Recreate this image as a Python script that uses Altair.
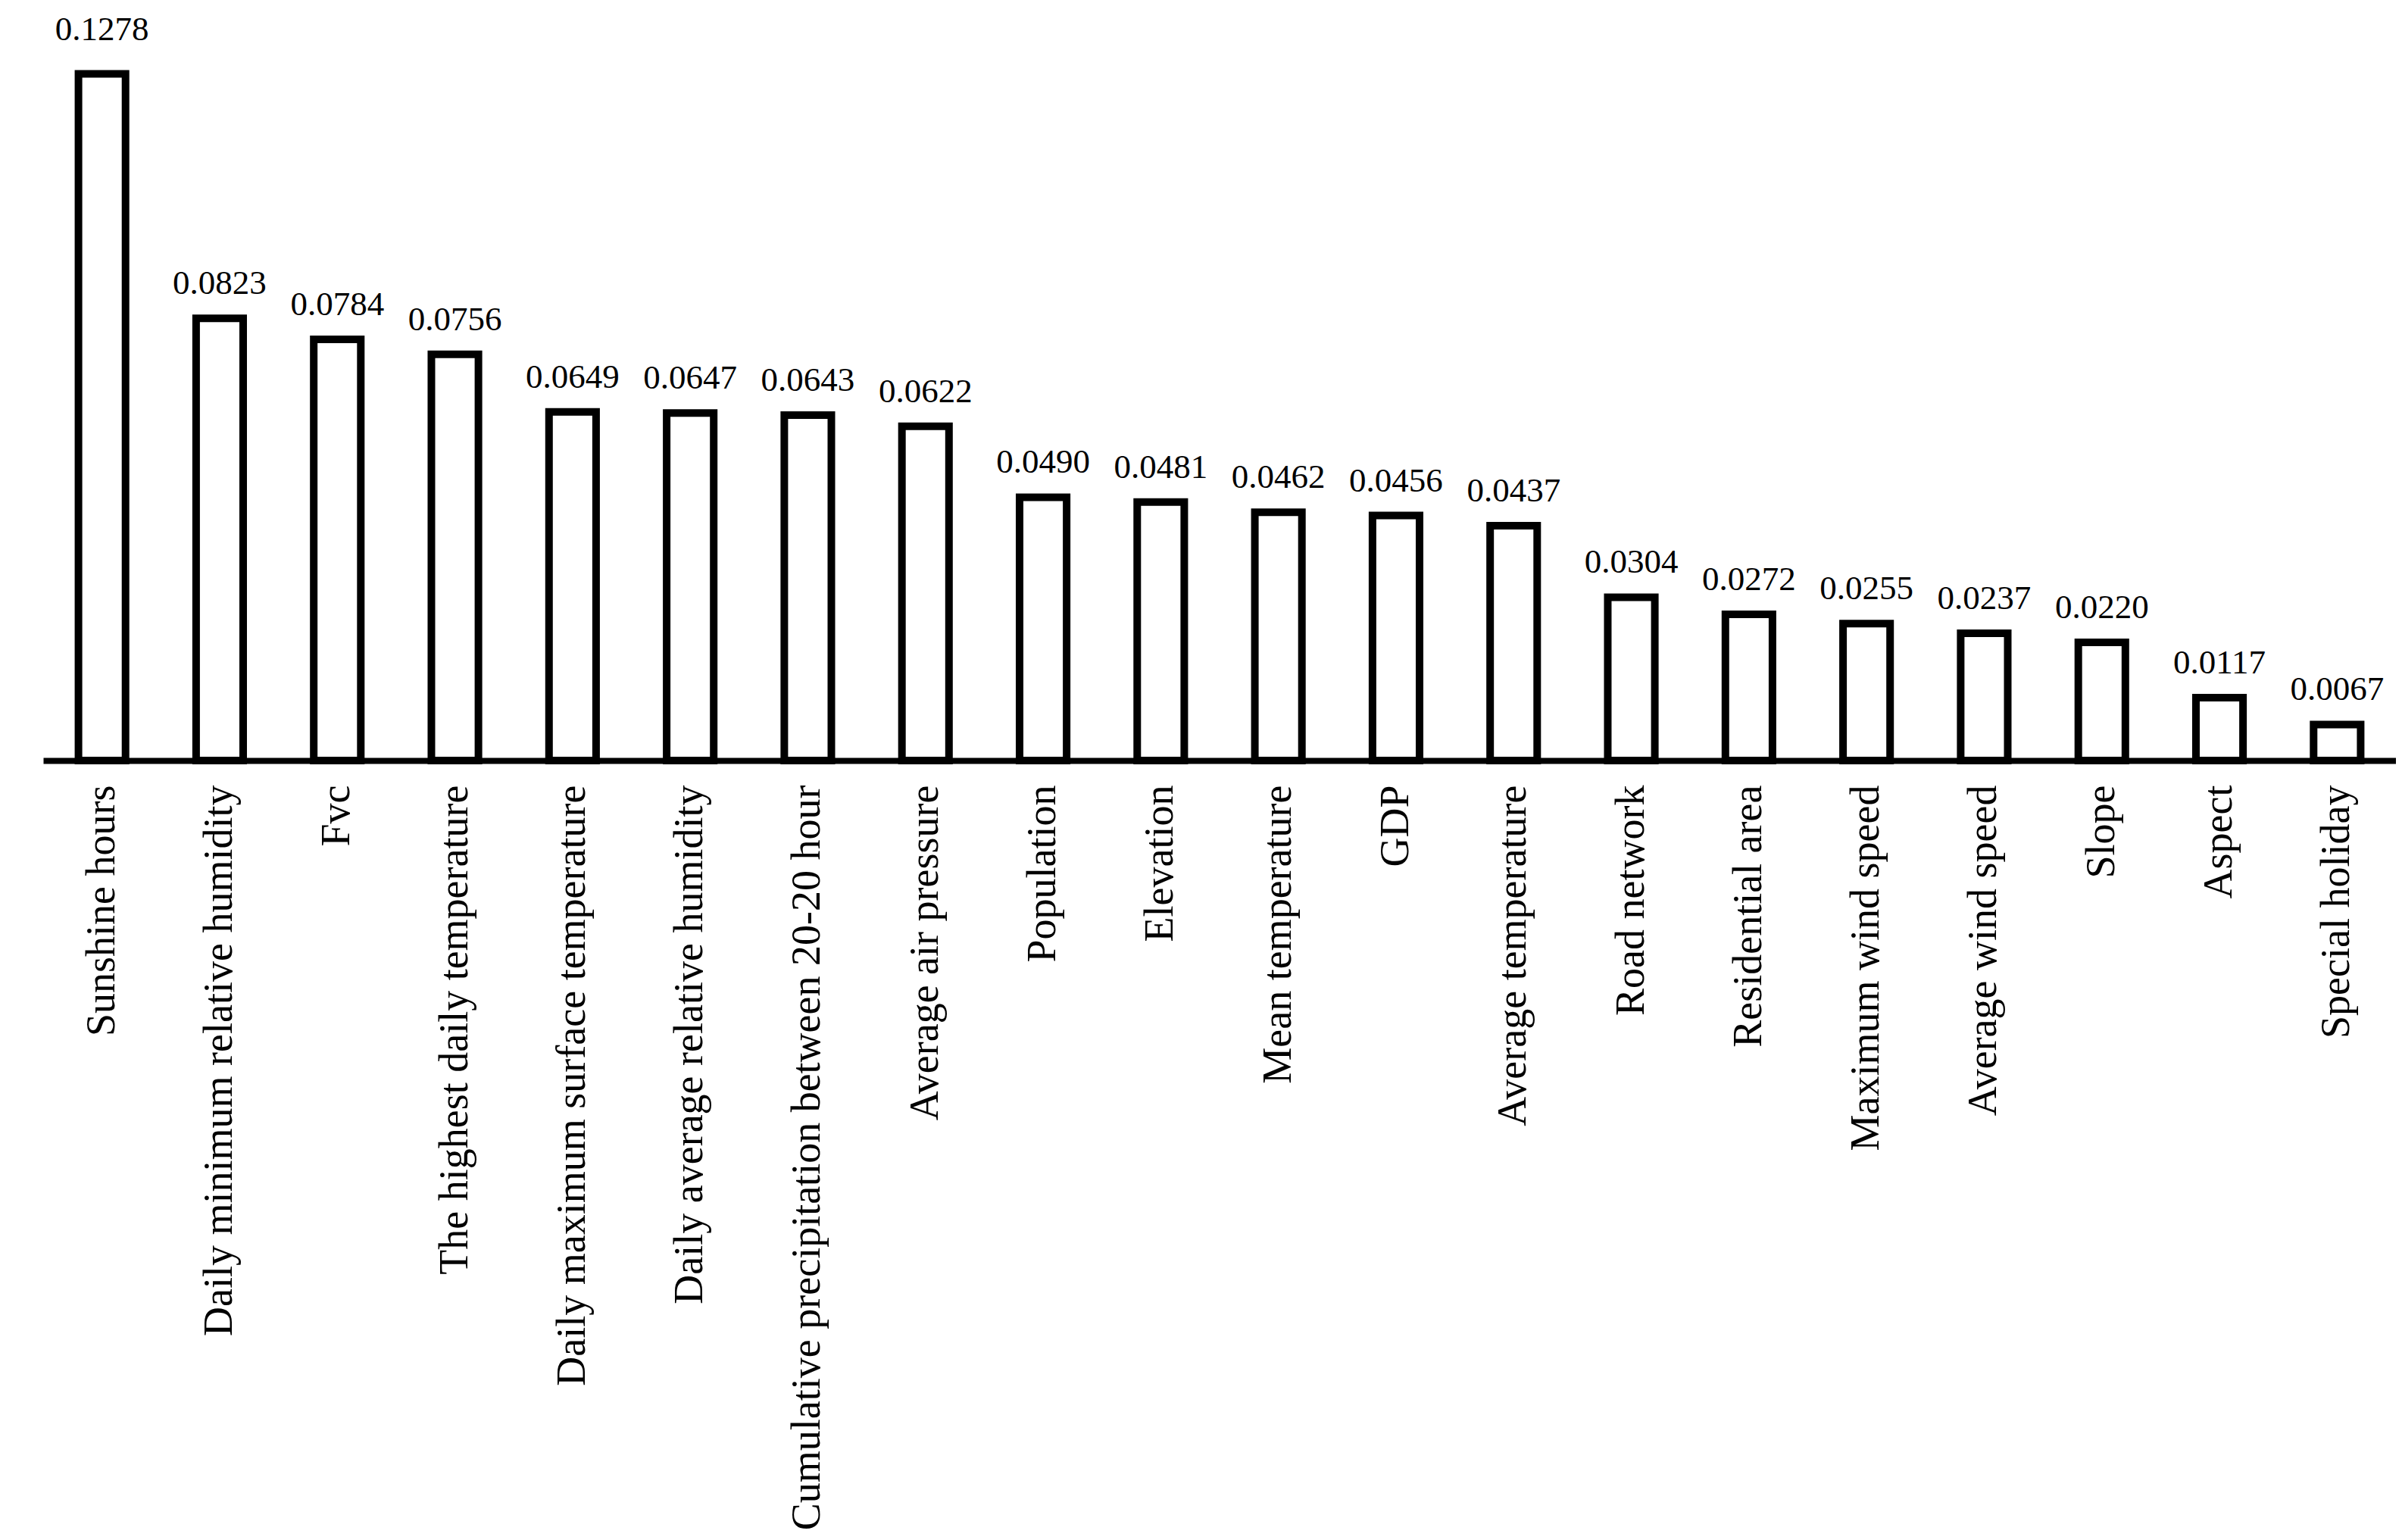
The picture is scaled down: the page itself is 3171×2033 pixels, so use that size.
import altair as alt
import pandas as pd

factors = [
    "Sunshine hours",
    "Daily minimum relative humidity",
    "Fvc",
    "The highest daily temperature",
    "Daily maximum surface temperature",
    "Daily average relative humidity",
    "Cumulative precipitation between 20-20 hour",
    "Average air pressure",
    "Population",
    "Elevation",
    "Mean temperature",
    "GDP",
    "Average temperature",
    "Road network",
    "Residential area",
    "Maximum wind speed",
    "Average wind speed",
    "Slope",
    "Aspect",
    "Special holiday",
]
importance = [
    0.1278, 0.0823, 0.0784, 0.0756, 0.0649, 0.0647, 0.0643, 0.0622,
    0.0490, 0.0481, 0.0462, 0.0456, 0.0437, 0.0304, 0.0272, 0.0255,
    0.0237, 0.0220, 0.0117, 0.0067,
]
labels = [f"{v:.4f}" for v in importance]

df = pd.DataFrame({"factor": factors, "value": importance, "label": labels})

FONT = "Liberation Serif"

x = alt.X(
    "factor:N",
    sort=factors,
    scale=alt.Scale(paddingInner=0.6, paddingOuter=0.3),
    axis=alt.Axis(
        title=None,
        labelAngle=270,
        labelAlign="right",
        labelBaseline="middle",
        labelFont=FONT,
        labelFontSize=54,
        labelColor="black",
        labelPadding=32,
        labelLimit=0,
        ticks=False,
        domainColor="black",
        domainWidth=8,
        grid=False,
    ),
)
y = alt.Y("value:Q", scale=alt.Scale(domain=[0, 0.13], nice=False), axis=None)

base = alt.Chart(df)

bars = base.mark_bar(fill="white", stroke="black", strokeWidth=10).encode(x=x, y=y)

text_enc = dict(
    x=alt.X("factor:N", sort=factors),
    y=alt.Y("value:Q"),
    text="label:N",
)
text_main = base.transform_filter(alt.datum.value < 0.1).mark_text(
    font=FONT, fontSize=45, baseline="alphabetic", align="center", dy=-32, color="black"
).encode(**text_enc)
text_top = base.transform_filter(alt.datum.value >= 0.1).mark_text(
    font=FONT, fontSize=45, baseline="alphabetic", align="center", dy=-45, color="black"
).encode(**text_enc)

chart = (
    alt.layer(bars, text_main, text_top)
    .properties(
        width=3106,
        height=922,
        padding={"left": 49, "top": 74, "right": 0, "bottom": 1015},
        autosize=alt.AutoSizeParams(type="none"),
        background="white",
    )
    .configure_view(stroke=None)
)

chart.save("out.html", embed_options={"renderer": "svg", "actions": False})
